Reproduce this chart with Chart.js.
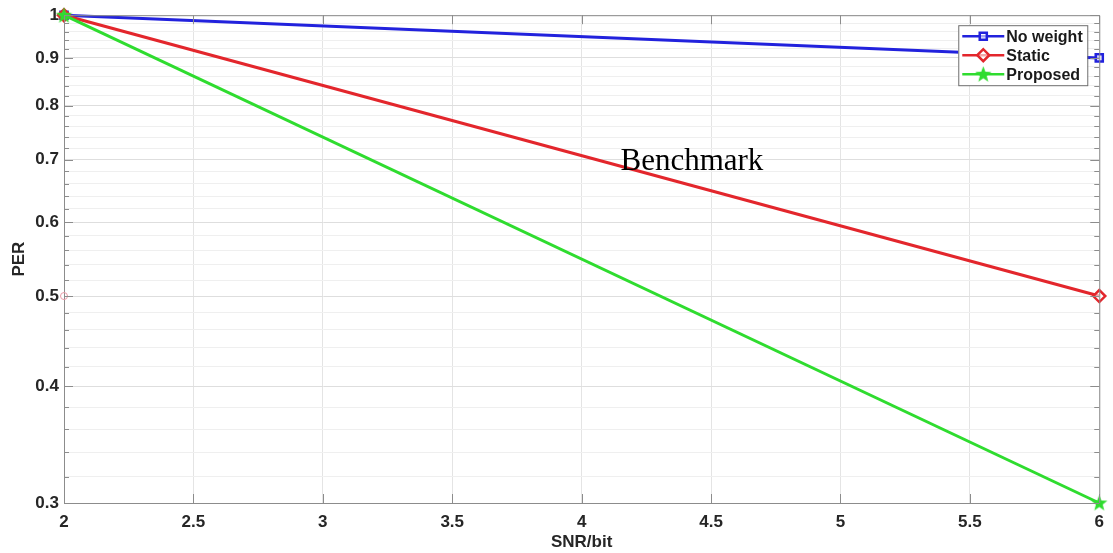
<!DOCTYPE html>
<html>
<head>
<meta charset="utf-8">
<script src="https://cdn.jsdelivr.net/npm/chart.js@4/dist/chart.umd.min.js"></script>
<style>
    html, body { margin: 0; padding: 0; background: #fff; }
    #wrap { width: 1113px; height: 553px; position: relative; }
</style>
</head>
<body>
<div id="wrap"><canvas id="myChart"></canvas></div>
<script>
// data
const snrBit = [2, 6];
const noWeight = [1.0, 0.9];
const staticPer = [1.0, 0.5];
const proposed = [1.0, 0.3];
const strayMark = [{x: 2, y: 0.5}];

const xTicks = [2, 2.5, 3, 3.5, 4, 4.5, 5, 5.5, 6];
const yMajorTicks = [0.3, 0.4, 0.5, 0.6, 0.7, 0.8, 0.9, 1];
const yMinorTicks = [0.30, 0.32, 0.34, 0.36, 0.38, 0.40, 0.42, 0.44, 0.46, 0.48,
    0.50, 0.52, 0.54, 0.56, 0.58, 0.60, 0.62, 0.64, 0.66, 0.68,
    0.70, 0.72, 0.74, 0.76, 0.78, 0.80, 0.82, 0.84, 0.86, 0.88,
    0.90, 0.92, 0.94, 0.96, 0.98, 1.00];

const benchmarkNote = {text: 'Benchmark', x: 4.15, y: 0.682};

function isMajor(v) {
    return yMajorTicks.some(m => Math.abs(m - v) < 1e-6);
}

function makeStar(size, color) {
    const c = document.createElement('canvas');
    c.width = size;
    c.height = size;
    const g = c.getContext('2d');
    const cx = size / 2, cy = size / 2 + 0.5, R = size / 2, r = R * 0.42;
    g.beginPath();
    for (let i = 0; i < 10; i++) {
        const a = -Math.PI / 2 + i * Math.PI / 5;
        const rad = i % 2 === 0 ? R : r;
        g.lineTo(cx + rad * Math.cos(a), cy + rad * Math.sin(a));
    }
    g.closePath();
    g.fillStyle = color;
    g.fill();
    return c;
}

const blue = '#2222dd';
const red = '#e3262c';
const green = '#2fdc2f';
const starImg = makeStar(17, green);

const axisFont = {family: 'Liberation Sans, Arial, sans-serif', size: 17, weight: 'bold'};

const extras = {
    id: 'extras',
    afterDraw(chart) {
        const ctx = chart.ctx;
        const a = chart.chartArea;
        const xs = chart.scales.x, ys = chart.scales.y;
        ctx.save();

        // box top / right
        ctx.strokeStyle = '#8c8c8c';
        ctx.lineWidth = 1;
        ctx.beginPath();
        ctx.moveTo(a.left, a.top + 0.5);
        ctx.lineTo(a.right + 0.5, a.top + 0.5);
        ctx.lineTo(a.right + 0.5, a.bottom);
        ctx.stroke();

        // inward tick marks
        ctx.beginPath();
        xTicks.forEach(v => {
            const px = Math.round(xs.getPixelForValue(v)) + 0.5;
            ctx.moveTo(px, a.bottom); ctx.lineTo(px, a.bottom - 9);
            ctx.moveTo(px, a.top); ctx.lineTo(px, a.top + 9);
        });
        yMinorTicks.forEach(v => {
            const py = Math.round(ys.getPixelForValue(v)) + 0.5;
            const len = isMajor(v) ? 9 : 5;
            ctx.moveTo(a.left, py); ctx.lineTo(a.left + len, py);
            ctx.moveTo(a.right, py); ctx.lineTo(a.right - len, py);
        });
        ctx.stroke();

        // annotation
        ctx.fillStyle = '#000';
        ctx.font = '31px "Liberation Serif", "Times New Roman", serif';
        ctx.textBaseline = 'alphabetic';
        ctx.textAlign = 'left';
        ctx.fillText(benchmarkNote.text, xs.getPixelForValue(benchmarkNote.x), ys.getPixelForValue(benchmarkNote.y));

        // legend box
        const bw = 129, bh = 60;
        const bx = a.right - 12 - bw, by = a.top + 10;
        ctx.fillStyle = '#fff';
        ctx.fillRect(bx, by, bw, bh);
        ctx.strokeStyle = '#6e6e6e';
        ctx.strokeRect(bx + 0.5, by + 0.5, bw, bh);

        const items = chart.data.datasets.filter(d => d.inLegend);
        items.forEach((d, i) => {
            const y = by + 11 + i * 19;
            ctx.strokeStyle = d.borderColor;
            ctx.lineWidth = 2.5;
            ctx.beginPath();
            ctx.moveTo(bx + 4, y);
            ctx.lineTo(bx + 46, y);
            ctx.stroke();
            ctx.fillStyle = d.pointBackgroundColor;
            ctx.strokeStyle = d.borderColor;
            ctx.lineWidth = d.pointBorderWidth;
            Chart.helpers.drawPoint(ctx, {pointStyle: d.pointStyle, radius: d.pointRadius, rotation: 0, borderWidth: d.pointBorderWidth}, bx + 25, y);
            ctx.fillStyle = '#1a1a1a';
            ctx.font = 'bold 16px "Liberation Sans", Arial, sans-serif';
            ctx.textBaseline = 'middle';
            ctx.fillText(d.label, bx + 48, y + 1);
        });
        ctx.restore();
    }
};

const ctx = document.getElementById('myChart');
Chart.defaults.color = '#262626';

let chartJsData = {
    datasets: [
        {
            label: 'No weight',
            inLegend: true,
            data: snrBit.map((x, i) => ({x: x, y: noWeight[i]})),
            borderColor: blue,
            borderWidth: 3,
            pointStyle: 'rect',
            pointRadius: 5,
            pointBorderWidth: 2.5,
            pointBackgroundColor: 'rgba(255,255,255,0.6)',
            pointBorderColor: blue,
            clip: false,
            order: 3
        },
        {
            label: 'Static',
            inLegend: true,
            data: snrBit.map((x, i) => ({x: x, y: staticPer[i]})),
            borderColor: red,
            borderWidth: 3,
            pointStyle: 'rectRot',
            pointRadius: 6,
            pointBorderWidth: 2.5,
            pointBackgroundColor: 'rgba(255,255,255,0.6)',
            pointBorderColor: red,
            clip: false,
            order: 2
        },
        {
            label: 'Proposed',
            inLegend: true,
            data: snrBit.map((x, i) => ({x: x, y: proposed[i]})),
            borderColor: green,
            borderWidth: 3,
            pointStyle: starImg,
            pointRadius: 8,
            pointBorderWidth: 1,
            pointBackgroundColor: green,
            pointBorderColor: green,
            clip: false,
            order: 1
        },
        {
            label: 'mark',
            inLegend: false,
            data: strayMark,
            showLine: false,
            pointStyle: 'circle',
            pointRadius: 3.5,
            pointBorderWidth: 1,
            pointBorderColor: '#e89aa6',
            pointBackgroundColor: 'rgba(255,255,255,0)',
            clip: false,
            order: 4
        }
    ]
};

let chartJsOptions = {
    responsive: false,
    animation: false,
    layout: {padding: {top: 13, right: 11, left: 0, bottom: 0}},
    scales: {
        x: {
            type: 'linear',
            min: 2,
            max: 6,
            afterBuildTicks: scale => { scale.ticks = xTicks.map(v => ({value: v})); },
            afterFit: scale => { scale.height = 50; },
            ticks: {
                font: axisFont,
                padding: 9,
                autoSkip: false,
                maxRotation: 0,
                callback: v => String(v)
            },
            grid: {color: '#e4e4e4', drawTicks: false},
            border: {color: '#8c8c8c', width: 1},
            title: {display: true, text: 'SNR/bit', font: axisFont, color: '#262626', padding: {top: 0, bottom: 0}}
        },
        y: {
            type: 'logarithmic',
            min: 0.3,
            max: 1,
            afterBuildTicks: scale => { scale.ticks = yMinorTicks.map(v => ({value: v, major: isMajor(v)})); },
            afterFit: scale => { scale.width = 64; },
            ticks: {
                font: axisFont,
                padding: 5,
                autoSkip: false,
                callback: v => isMajor(v) ? (v >= 0.999 ? '1' : v.toFixed(1)) : ''
            },
            grid: {
                color: c => (c.tick && isMajor(c.tick.value)) ? '#dedede' : '#efefef',
                drawTicks: false
            },
            border: {color: '#8c8c8c', width: 1},
            title: {display: true, text: 'PER', font: axisFont, color: '#262626', padding: {top: 9, bottom: 0}}
        }
    },
    plugins: {
        legend: {display: false},
        tooltip: {enabled: false}
    }
};

let chartJsConfig = {
    type: 'line',
    data: chartJsData,
    plugins: [extras],
    options: chartJsOptions
};
ctx.width = 1113;
ctx.height = 553;
new Chart(ctx, chartJsConfig);
</script>
</body>
</html>
